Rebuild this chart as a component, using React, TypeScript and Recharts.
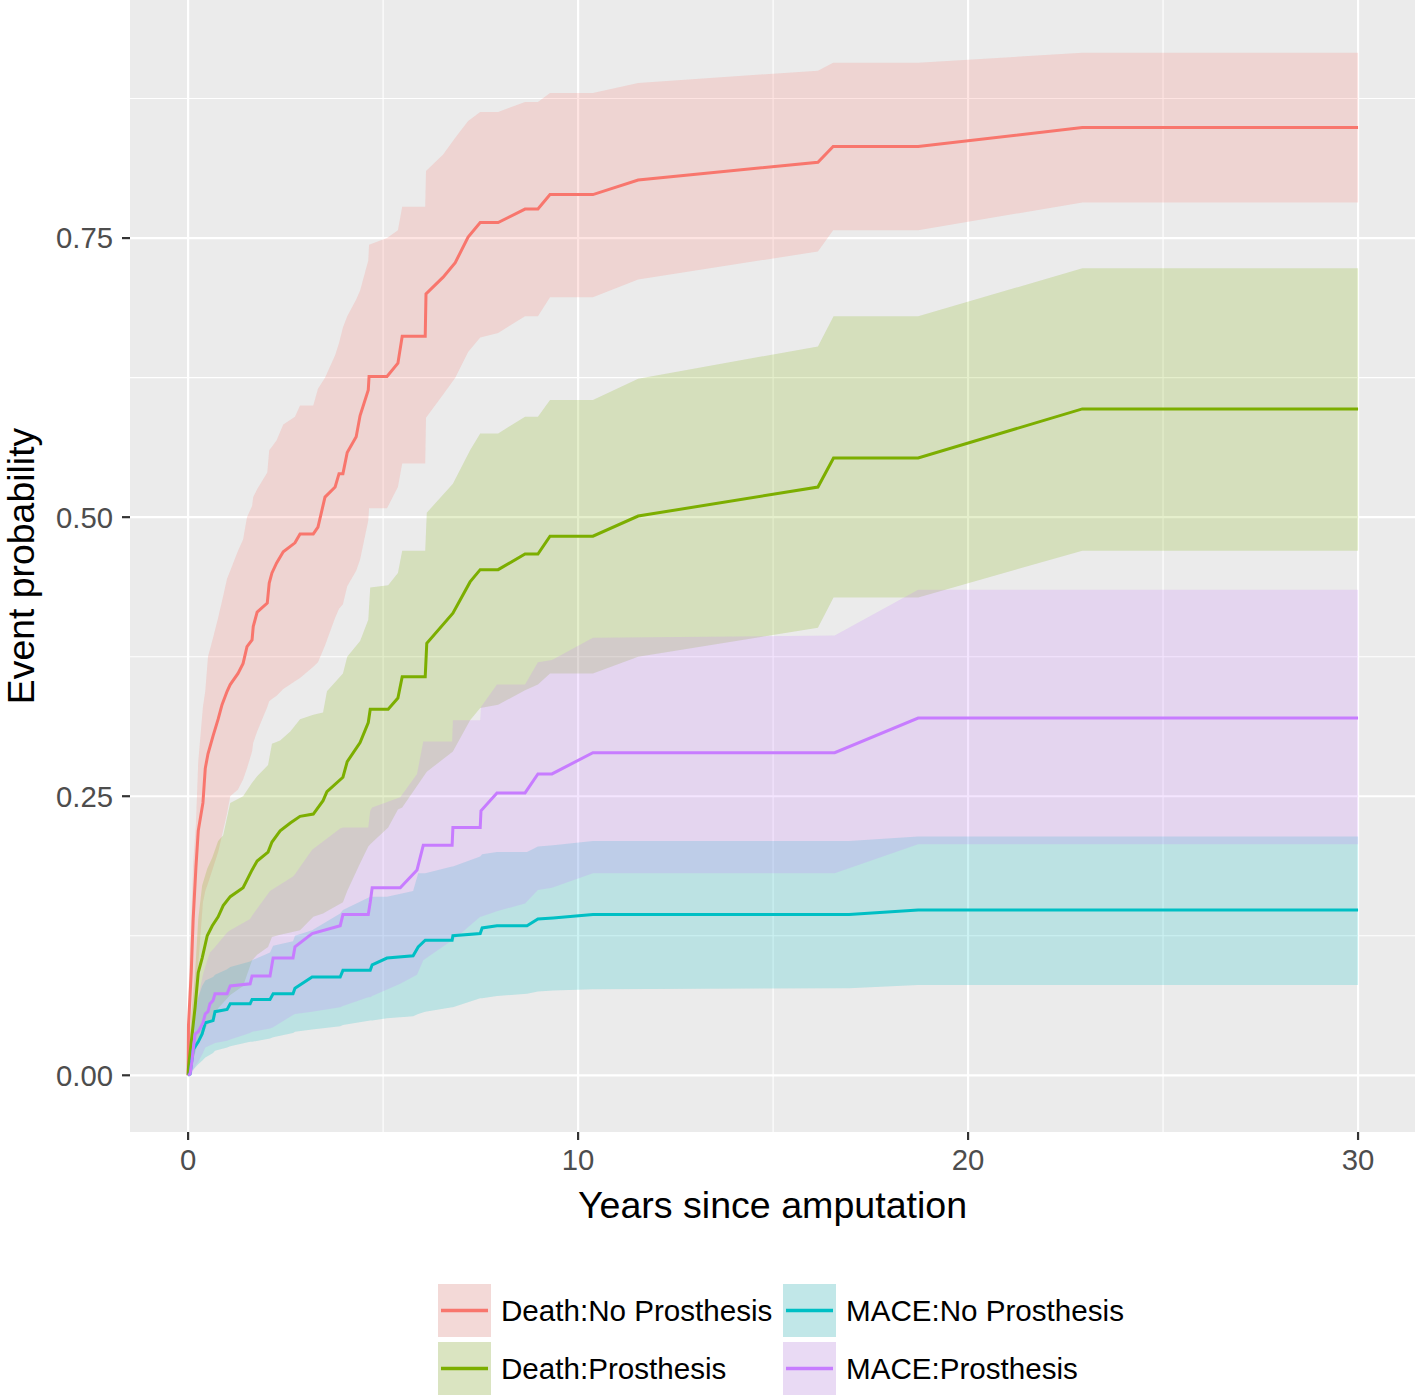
import React from "react";
import { ComposedChart, Area, Line, XAxis, YAxis, CartesianGrid } from "recharts";

const seriesNames = ["Death:No Prosthesis", "Death:Prosthesis", "MACE:No Prosthesis", "MACE:Prosthesis"];
const seriesColors = ["#F8766D", "#7CAE00", "#00BFC4", "#C77CFF"];

const xTicks = [0, 10, 20, 30];
const xMinor = [5, 15, 25];
const yTicks = [0, 0.25, 0.5, 0.75];
const yMinor = [0.125, 0.375, 0.625, 0.875];

// Death:No Prosthesis
const deathNoTime = [0, 0.01, 0.08, 0.13, 0.2, 0.26, 0.38, 0.44, 0.51, 0.64, 0.77, 0.87, 1.0, 1.08, 1.28, 1.41, 1.51, 1.64, 1.67, 1.77, 2.03, 2.08, 2.15, 2.27, 2.44, 2.74, 2.87, 3.21, 3.33, 3.51, 3.77, 3.87, 3.97, 4.08, 4.31, 4.41, 4.62, 4.64, 5.1, 5.38, 5.49, 6.08, 6.1, 6.54, 6.85, 7.18, 7.49, 7.95, 8.64, 8.97, 9.28, 10.38, 11.54, 16.15, 16.54, 18.72, 22.93, 30];
const deathNoEst = [0, 0.045, 0.092, 0.14, 0.186, 0.219, 0.244, 0.275, 0.288, 0.304, 0.319, 0.332, 0.344, 0.35, 0.36, 0.369, 0.384, 0.39, 0.402, 0.415, 0.423, 0.441, 0.45, 0.459, 0.469, 0.477, 0.485, 0.485, 0.491, 0.518, 0.527, 0.539, 0.539, 0.558, 0.572, 0.591, 0.614, 0.626, 0.626, 0.638, 0.662, 0.662, 0.7, 0.715, 0.728, 0.751, 0.764, 0.764, 0.776, 0.776, 0.789, 0.789, 0.802, 0.818, 0.832, 0.832, 0.849, 0.849];
const deathNoLow = [0, 0.005, 0.01, 0.04, 0.07, 0.1, 0.155, 0.165, 0.172, 0.186, 0.2, 0.215, 0.235, 0.25, 0.256, 0.265, 0.275, 0.29, 0.298, 0.308, 0.33, 0.335, 0.337, 0.34, 0.346, 0.353, 0.356, 0.366, 0.37, 0.385, 0.41, 0.418, 0.422, 0.438, 0.452, 0.462, 0.497, 0.508, 0.508, 0.527, 0.548, 0.548, 0.589, 0.61, 0.625, 0.648, 0.661, 0.665, 0.68, 0.68, 0.697, 0.697, 0.713, 0.738, 0.757, 0.757, 0.782, 0.782];
const deathNoHigh = [0, 0.076, 0.14, 0.19, 0.225, 0.281, 0.33, 0.344, 0.375, 0.392, 0.41, 0.425, 0.445, 0.452, 0.47, 0.48, 0.5, 0.51, 0.518, 0.525, 0.54, 0.56, 0.563, 0.569, 0.583, 0.59, 0.6, 0.6, 0.615, 0.625, 0.645, 0.656, 0.67, 0.68, 0.695, 0.703, 0.73, 0.744, 0.75, 0.757, 0.778, 0.778, 0.81, 0.825, 0.84, 0.855, 0.863, 0.863, 0.872, 0.872, 0.88, 0.88, 0.889, 0.9, 0.907, 0.907, 0.916, 0.916];

// Death:Prosthesis
const deathYesTime = [0, 0.01, 0.1, 0.18, 0.26, 0.36, 0.49, 0.62, 0.77, 0.9, 1.08, 1.41, 1.64, 1.77, 2.05, 2.15, 2.36, 2.62, 2.87, 3.21, 3.46, 3.56, 3.97, 4.08, 4.41, 4.62, 4.67, 5.13, 5.38, 5.49, 6.08, 6.12, 6.79, 7.23, 7.49, 7.95, 8.64, 8.97, 9.28, 10.38, 11.54, 16.15, 16.55, 18.72, 22.93, 30];
const deathYesEst = [0, 0.007, 0.036, 0.061, 0.092, 0.105, 0.125, 0.134, 0.142, 0.152, 0.16, 0.168, 0.184, 0.192, 0.2, 0.209, 0.219, 0.226, 0.232, 0.234, 0.246, 0.254, 0.267, 0.281, 0.298, 0.316, 0.328, 0.328, 0.338, 0.357, 0.357, 0.387, 0.414, 0.442, 0.453, 0.453, 0.467, 0.467, 0.483, 0.483, 0.501, 0.527, 0.553, 0.553, 0.597, 0.597];
const deathYesLow = [0, 0, 0.01, 0.02, 0.03, 0.035, 0.045, 0.05, 0.06, 0.065, 0.072, 0.08, 0.103, 0.108, 0.115, 0.124, 0.126, 0.128, 0.13, 0.142, 0.145, 0.147, 0.155, 0.165, 0.19, 0.205, 0.207, 0.222, 0.238, 0.24, 0.27, 0.272, 0.29, 0.318, 0.329, 0.332, 0.345, 0.35, 0.36, 0.36, 0.375, 0.401, 0.428, 0.428, 0.47, 0.47];
const deathYesHigh = [0, 0.02, 0.061, 0.092, 0.14, 0.17, 0.185, 0.195, 0.21, 0.215, 0.244, 0.25, 0.262, 0.268, 0.278, 0.297, 0.3, 0.308, 0.319, 0.323, 0.325, 0.344, 0.36, 0.375, 0.389, 0.408, 0.437, 0.439, 0.45, 0.47, 0.47, 0.504, 0.53, 0.56, 0.575, 0.575, 0.59, 0.59, 0.605, 0.605, 0.624, 0.653, 0.68, 0.68, 0.723, 0.723];

// MACE:No Prosthesis
const maceNoTime = [0, 0.05, 0.13, 0.26, 0.36, 0.44, 0.64, 0.69, 1.0, 1.08, 1.59, 1.64, 2.1, 2.18, 2.69, 2.74, 3.18, 3.9, 3.97, 4.67, 4.72, 5.1, 5.77, 5.9, 6.08, 6.77, 6.79, 7.49, 7.54, 7.92, 8.69, 8.97, 9.36, 10.38, 16.95, 18.72, 30];
const maceNoEst = [0, 0.001, 0.023, 0.03, 0.037, 0.047, 0.049, 0.057, 0.059, 0.064, 0.064, 0.068, 0.068, 0.073, 0.073, 0.078, 0.088, 0.088, 0.094, 0.094, 0.099, 0.105, 0.107, 0.115, 0.121, 0.121, 0.125, 0.127, 0.132, 0.134, 0.134, 0.14, 0.141, 0.144, 0.144, 0.148, 0.148];
const maceNoLow = [0, 0, 0.005, 0.01, 0.013, 0.016, 0.02, 0.022, 0.025, 0.026, 0.03, 0.03, 0.033, 0.034, 0.038, 0.039, 0.041, 0.044, 0.045, 0.049, 0.049, 0.051, 0.053, 0.055, 0.057, 0.061, 0.061, 0.069, 0.069, 0.071, 0.073, 0.075, 0.076, 0.077, 0.078, 0.081, 0.081];
const maceNoHigh = [0, 0.02, 0.05, 0.07, 0.08, 0.085, 0.088, 0.09, 0.095, 0.097, 0.102, 0.103, 0.11, 0.116, 0.12, 0.125, 0.13, 0.145, 0.148, 0.16, 0.16, 0.16, 0.165, 0.181, 0.181, 0.187, 0.187, 0.196, 0.198, 0.2, 0.2, 0.205, 0.206, 0.21, 0.21, 0.214, 0.214];

// MACE:Prosthesis
const maceYesTime = [0, 0.05, 0.1, 0.13, 0.18, 0.26, 0.38, 0.44, 0.51, 0.56, 0.64, 0.69, 1.0, 1.08, 1.59, 1.64, 2.1, 2.18, 2.69, 2.74, 3.18, 3.9, 3.97, 4.62, 4.67, 4.72, 5.44, 5.87, 6.03, 6.77, 6.79, 7.49, 7.51, 7.92, 8.64, 8.97, 9.33, 10.38, 16.58, 18.72, 30];
const maceYesEst = [0, 0.001, 0.013, 0.023, 0.037, 0.039, 0.047, 0.055, 0.057, 0.064, 0.067, 0.073, 0.073, 0.08, 0.082, 0.089, 0.089, 0.105, 0.105, 0.115, 0.127, 0.134, 0.144, 0.144, 0.155, 0.168, 0.168, 0.184, 0.206, 0.206, 0.222, 0.222, 0.237, 0.253, 0.253, 0.27, 0.27, 0.289, 0.289, 0.32, 0.32];
const maceYesLow = [0, 0, 0.002, 0.004, 0.008, 0.012, 0.02, 0.025, 0.026, 0.027, 0.028, 0.029, 0.031, 0.032, 0.038, 0.039, 0.042, 0.043, 0.054, 0.055, 0.057, 0.061, 0.062, 0.07, 0.07, 0.071, 0.082, 0.09, 0.103, 0.121, 0.121, 0.142, 0.142, 0.147, 0.154, 0.166, 0.168, 0.181, 0.181, 0.207, 0.207];
const maceYesHigh = [0, 0.02, 0.03, 0.045, 0.06, 0.07, 0.09, 0.097, 0.105, 0.11, 0.113, 0.115, 0.128, 0.13, 0.14, 0.143, 0.165, 0.167, 0.178, 0.18, 0.202, 0.221, 0.222, 0.222, 0.237, 0.24, 0.249, 0.27, 0.299, 0.299, 0.318, 0.318, 0.33, 0.35, 0.35, 0.37, 0.372, 0.392, 0.394, 0.435, 0.435];

const toRows = (time: number[], est: number[], low: number[], high: number[]) =>
  time.map((t, i) => ({ t, est: est[i], band: [low[i], high[i]] }));

const series = [
  toRows(deathNoTime, deathNoEst, deathNoLow, deathNoHigh),
  toRows(deathYesTime, deathYesEst, deathYesLow, deathYesHigh),
  toRows(maceNoTime, maceNoEst, maceNoLow, maceNoHigh),
  toRows(maceYesTime, maceYesEst, maceYesLow, maceYesHigh),
];

const FONT = "'Liberation Sans', Arial, Helvetica, sans-serif";

const XTitle = (props: any) => {
  const { viewBox } = props;
  return (
    <text x={viewBox.x + viewBox.width / 2} y={viewBox.y + 73} textAnchor="middle" dominantBaseline="central"
      fontSize={37.6} fill="#000" fontFamily={FONT}>
      Years since amputation
    </text>
  );
};

const YTitle = (props: any) => {
  const { viewBox } = props;
  const cx = viewBox.x + 21;
  const cy = viewBox.y + viewBox.height / 2;
  return (
    <text x={cx} y={cy} transform={`rotate(-90 ${cx} ${cy})`} textAnchor="middle" dominantBaseline="central"
      fontSize={37.4} fill="#000" fontFamily={FONT}>
      Event probability
    </text>
  );
};

function LegendKey({ color }: { color: string }) {
  return (
    <svg width={53} height={53} style={{ display: "block" }}>
      <rect x={0} y={0} width={53} height={53} fill="#F2F2F2" />
      <rect x={0} y={0} width={53} height={53} fill={color} fillOpacity={0.2} />
      <line x1={3} x2={50} y1={26.5} y2={26.5} stroke={color} strokeWidth={3.3} />
    </svg>
  );
}

export default function App() {
  return (
    <div style={{ position: "absolute", left: 0, top: 0, width: 1418, height: 1398, background: "#fff", fontFamily: FONT }}>
      <ComposedChart width={1418} height={1398} margin={{ top: 0, right: 3, bottom: 0, left: 0 }}>
        <CartesianGrid fill="#EBEBEB" stroke="#FFFFFF" strokeWidth={1.1}
          horizontalValues={yMinor} verticalValues={xMinor} />
        <CartesianGrid fill="none" stroke="#FFFFFF" strokeWidth={2.2}
          horizontalValues={yTicks} verticalValues={xTicks} />
        <XAxis dataKey="t" type="number" domain={[-1.49, 31.46]} allowDataOverflow ticks={xTicks}
          height={266} axisLine={false} tickSize={8} tickMargin={9}
          tickLine={{ stroke: "#333333", strokeWidth: 2.2 }}
          tick={{ fontSize: 29.3, fill: "#4D4D4D", fontFamily: FONT }}
          label={{ content: XTitle }} />
        <YAxis type="number" domain={[-0.0508, 0.9633]} allowDataOverflow ticks={yTicks}
          width={130} axisLine={false} tickSize={8} tickMargin={9}
          tickFormatter={(v: number) => v.toFixed(2)}
          tickLine={{ stroke: "#333333", strokeWidth: 2.2 }}
          tick={{ fontSize: 29.3, fill: "#4D4D4D", fontFamily: FONT }}
          label={{ content: YTitle }} />
        {series.map((rows, i) => (
          <Area key={"band" + i} data={rows} dataKey="band" type="linear" stroke="none"
            fill={seriesColors[i]} fillOpacity={0.2} isAnimationActive={false} activeDot={false} />
        ))}
        {series.map((rows, i) => (
          <Line key={"line" + i} data={rows} dataKey="est" type="linear" stroke={seriesColors[i]}
            strokeWidth={3} dot={false} activeDot={false} isAnimationActive={false} />
        ))}
      </ComposedChart>
      <div style={{ position: "absolute", left: 438, top: 1284, display: "grid", gridAutoFlow: "column",
        gridTemplateRows: "53px 53px", gridTemplateColumns: "345px auto", rowGap: 5 }}>
        {seriesNames.map((name, i) => (
          <div key={name} style={{ display: "flex", alignItems: "center", height: 53 }}>
            <LegendKey color={seriesColors[i]} />
            <span style={{ marginLeft: 10, fontSize: 29.6, color: "#000", whiteSpace: "nowrap" }}>{name}</span>
          </div>
        ))}
      </div>
    </div>
  );
}
